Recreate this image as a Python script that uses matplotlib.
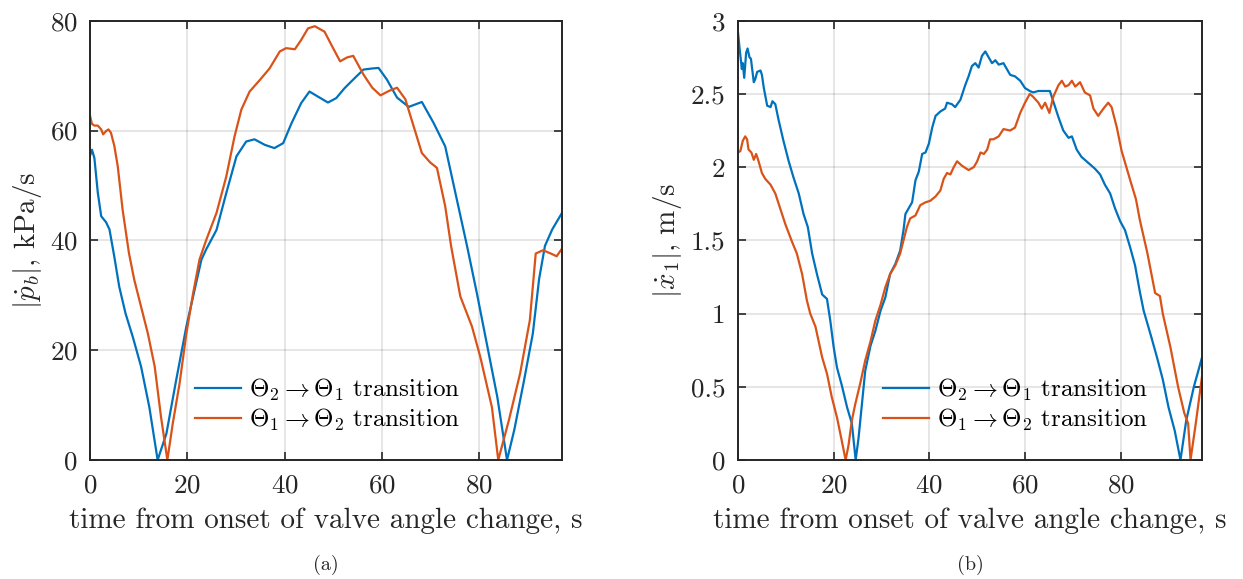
import numpy as np
import matplotlib
matplotlib.use("Agg")
import matplotlib.pyplot as plt

# =============================================================================
# Data (time in s)
# =============================================================================
# (a) |dp_b/dt|, kPa/s
pb_t_21 = [0, 0.4, 0.9, 1.6, 2.3, 3.3, 4.0, 5.0, 6.0, 7.3, 8.8, 10.5, 12.2, 13.9,
           15.7, 17.7, 19.8, 21.5, 22.9, 23.9, 26.0, 28.0, 30.1, 32.1, 33.8, 35.9,
           37.9, 39.7, 41.4, 43.4, 45.1, 46.8, 48.9, 50.6, 52.3, 54.0, 56.2, 58.0,
           59.3, 61.0, 63.1, 65.5, 68.2, 70.6, 73.0, 75.1, 77.5, 79.5, 81.7, 83.7,
           85.7, 87.2, 89.2, 91.0, 92.3, 93.5, 95.0, 97.0]
pb_v_21 = [55.4, 56.5, 55.0, 48.7, 44.4, 43.3, 42.0, 37.0, 31.6, 26.7, 22.4, 17.0,
           9.6, 0.0, 4.8, 14.5, 24.3, 31.0, 36.5, 38.4, 41.9, 48.6, 55.3, 58.0,
           58.4, 57.4, 56.8, 57.7, 61.3, 65.0, 67.1, 66.2, 65.1, 65.9, 67.7, 69.2,
           71.1, 71.3, 71.4, 69.3, 66.0, 64.3, 65.2, 61.4, 57.1, 48.6, 38.9, 30.4,
           20.5, 11.5, 0.0, 5.5, 14.5, 23.0, 33.0, 39.0, 42.0, 45.0]

pb_t_12 = [0, 0.4, 0.9, 1.6, 2.3, 2.7, 3.3, 3.8, 4.3, 5.0, 5.7, 6.7, 8.0, 9.1,
           10.5, 11.9, 13.3, 14.6, 15.9, 17.0, 18.4, 19.8, 21.2, 22.5, 23.9, 26.0,
           28.0, 29.7, 31.1, 32.8, 34.9, 36.9, 39.0, 40.3, 42.1, 43.4, 44.8, 46.2,
           48.2, 49.6, 51.4, 52.8, 54.1, 56.2, 58.0, 59.7, 61.4, 63.1, 64.8, 66.5,
           68.2, 69.9, 71.3, 73.0, 74.2, 76.1, 78.5, 80.2, 82.6, 83.9, 86.1, 88.4,
           90.4, 91.6, 93.1, 94.7, 95.9, 97.0]
pb_v_12 = [62.7, 61.2, 60.9, 60.9, 60.2, 59.3, 59.9, 60.2, 59.6, 57.2, 53.5, 45.6,
           37.7, 32.8, 27.9, 23.0, 17.0, 7.8, 0.0, 6.6, 13.9, 23.0, 30.4, 36.5,
           40.1, 45.0, 51.6, 58.9, 63.8, 67.1, 69.2, 71.3, 74.4, 75.0, 74.8, 76.5,
           78.6, 79.0, 78.0, 75.6, 72.6, 73.3, 73.6, 70.2, 67.8, 66.4, 67.2, 67.8,
           65.7, 60.8, 55.9, 54.2, 53.2, 46.2, 39.0, 29.8, 24.3, 18.8, 9.6, 0.0,
           7.3, 15.8, 25.5, 37.6, 38.2, 37.6, 37.1, 38.5]

# (b) |dx_1/dt|, m/s
x1_t_21 = [0, 0.3, 0.6, 0.8, 1.0, 1.3, 1.7, 2.0, 2.4, 2.7, 3.3, 3.6, 4.0, 4.7, 5.0,
           5.4, 6.1, 6.8, 7.2, 7.8, 8.5, 9.5, 10.6, 11.6, 12.7, 13.7, 14.6, 15.5,
           16.5, 17.6, 18.6, 19.3, 20.0, 20.7, 21.7, 22.8, 23.8, 24.6, 25.2, 25.9,
           26.6, 27.7, 28.7, 29.8, 30.8, 31.8, 32.9, 33.9, 34.6, 35.0, 35.7, 36.4,
           37.1, 37.8, 38.5, 39.2, 39.9, 40.6, 41.3, 42.3, 43.3, 43.7, 44.7, 45.4,
           46.5, 47.5, 48.2, 48.9, 49.6, 50.3, 51.0, 51.7, 52.4, 53.1, 53.8, 54.5,
           55.5, 56.9, 57.9, 59.0, 60.0, 61.0, 61.7, 62.8, 63.8, 65.2, 65.9, 67.0,
           68.0, 69.1, 69.8, 70.8, 71.8, 73.2, 74.6, 75.7, 76.7, 77.8, 78.8, 79.9,
           80.9, 82.0, 83.0, 84.0, 84.8, 86.4, 87.6, 88.8, 90.0, 91.3, 92.5, 93.7,
           95.3, 97.0]
x1_v_21 = [2.92, 2.82, 2.73, 2.67, 2.71, 2.61, 2.78, 2.81, 2.75, 2.74, 2.58, 2.60,
           2.65, 2.66, 2.63, 2.54, 2.42, 2.41, 2.45, 2.43, 2.32, 2.18, 2.04, 1.93,
           1.82, 1.68, 1.59, 1.41, 1.27, 1.13, 1.10, 0.95, 0.77, 0.63, 0.51, 0.36,
           0.25, 0.0, 0.15, 0.38, 0.61, 0.78, 0.88, 1.02, 1.11, 1.27, 1.34, 1.43,
           1.57, 1.68, 1.72, 1.76, 1.91, 1.97, 2.09, 2.10, 2.16, 2.27, 2.35, 2.38,
           2.40, 2.44, 2.43, 2.41, 2.46, 2.56, 2.62, 2.69, 2.71, 2.68, 2.76, 2.79,
           2.75, 2.71, 2.73, 2.70, 2.71, 2.63, 2.62, 2.59, 2.54, 2.52, 2.51, 2.52,
           2.52, 2.52, 2.45, 2.34, 2.25, 2.20, 2.21, 2.12, 2.07, 2.03, 1.99, 1.95,
           1.88, 1.82, 1.72, 1.63, 1.57, 1.45, 1.33, 1.15, 1.02, 0.84, 0.70, 0.55,
           0.36, 0.20, 0.0, 0.27, 0.50, 0.70]

x1_t_12 = [0, 0.5, 1.0, 1.5, 1.9, 2.2, 2.8, 3.3, 3.8, 4.3, 5.0, 5.7, 6.8, 7.8, 8.8,
           9.9, 11.3, 12.3, 13.4, 14.4, 15.1, 16.2, 17.6, 18.6, 19.6, 20.7, 21.7,
           22.5, 23.1, 23.8, 24.5, 25.6, 26.6, 27.7, 28.7, 29.8, 30.8, 31.8, 32.9,
           33.9, 34.6, 35.3, 36.0, 37.1, 38.1, 39.2, 40.2, 41.3, 42.3, 43.0, 43.7,
           44.4, 45.1, 45.8, 46.8, 48.2, 49.3, 50.0, 50.7, 51.4, 52.1, 52.7, 53.4,
           54.5, 55.5, 56.9, 57.9, 59.0, 60.0, 61.0, 61.7, 62.8, 63.5, 64.2, 65.1,
           65.9, 67.0, 67.7, 68.4, 69.1, 69.8, 70.5, 71.5, 72.5, 73.6, 74.3, 75.3,
           76.4, 77.4, 78.1, 79.2, 80.2, 82.0, 83.2, 84.0, 85.6, 87.2, 88.2, 88.8,
           90.4, 92.0, 93.3, 94.1, 94.6, 95.7, 97.0]
x1_v_12 = [2.10, 2.11, 2.18, 2.21, 2.19, 2.12, 2.10, 2.05, 2.09, 2.04, 1.96, 1.92,
           1.88, 1.82, 1.72, 1.61, 1.49, 1.41, 1.27, 1.09, 1.00, 0.91, 0.70, 0.59,
           0.43, 0.29, 0.13, 0.0, 0.10, 0.27, 0.38, 0.53, 0.68, 0.81, 0.95, 1.06,
           1.18, 1.27, 1.33, 1.41, 1.50, 1.59, 1.65, 1.67, 1.74, 1.76, 1.77, 1.80,
           1.84, 1.92, 1.96, 1.95, 2.00, 2.04, 2.01, 1.98, 2.00, 2.04, 2.10, 2.09,
           2.12, 2.19, 2.19, 2.21, 2.26, 2.25, 2.27, 2.37, 2.44, 2.50, 2.48, 2.44,
           2.40, 2.44, 2.37, 2.48, 2.56, 2.59, 2.55, 2.56, 2.59, 2.55, 2.58, 2.51,
           2.49, 2.40, 2.35, 2.40, 2.44, 2.41, 2.27, 2.11, 1.91, 1.78, 1.64, 1.41,
           1.14, 1.12, 1.00, 0.77, 0.50, 0.32, 0.25, 0.0, 0.25, 0.57]

x_ticks = [0, 20, 40, 60, 80]
pb_ticks = [0, 20, 40, 60, 80]
x1_ticks = [0, 0.5, 1, 1.5, 2, 2.5, 3]
x1_ticklabels = ["0", "0.5", "1", "1.5", "2", "2.5", "3"]

label_21 = r"$\Theta_2 \rightarrow \Theta_1$ transition"
label_12 = r"$\Theta_1 \rightarrow \Theta_2$ transition"
xlabel = "time from onset of valve angle change, s"

# =============================================================================
# Style (MATLAB-like, Computer Modern)
# =============================================================================
plt.rcParams["font.family"] = ["cmr10", "DejaVu Serif"]
plt.rcParams["mathtext.fontset"] = "cm"
plt.rcParams["axes.formatter.use_mathtext"] = True

BLUE = "#0072BD"
ORANGE = "#D95319"
AX_COL = "#262626"

fig = plt.figure(figsize=(12.43, 5.79), dpi=100)
ax1 = fig.add_axes([90 / 1243, 1 - 460 / 579, 472 / 1243, 439.3 / 579])
ax2 = fig.add_axes([738 / 1243, 1 - 460 / 579, 464 / 1243, 439.3 / 579])


def style_axes(ax):
    ax.set_xlim(0, 97)
    ax.grid(True, color="#000000", alpha=0.13, linewidth=1.1)
    ax.set_axisbelow(True)
    for sp in ax.spines.values():
        sp.set_color(AX_COL)
        sp.set_linewidth(1.4)
    ax.tick_params(direction="in", top=True, right=True, length=6, width=1.2,
                   color=AX_COL, labelcolor=AX_COL, labelsize=19.5)
    ax.tick_params(axis="x", pad=10)
    ax.tick_params(axis="y", pad=9)
    ax.set_xticks(x_ticks)
    ax.set_xlabel(xlabel, fontsize=21, color=AX_COL, labelpad=7)


# --- (a) ---
ax1.plot(pb_t_21, pb_v_21, color=BLUE, linewidth=1.6, label=label_21)
ax1.plot(pb_t_12, pb_v_12, color=ORANGE, linewidth=1.6, label=label_12)
style_axes(ax1)
ax1.set_ylim(0, 80)
ax1.set_yticks(pb_ticks)
ax1.set_ylabel(r"$|\dot{p}_b|$, kPa/s", fontsize=21, color=AX_COL, va="center")
ax1.yaxis.set_label_coords(-0.132, 0.5)
ax1.legend(loc="center left", bbox_to_anchor=(0.222, 0.125), frameon=False,
           fontsize=18, handlelength=1.85, handletextpad=0.3, labelspacing=0.15,
           borderpad=0, borderaxespad=0)
ax1.text(0.5, -0.238, "(a)", transform=ax1.transAxes, ha="center", va="center",
         fontsize=14.5, color=AX_COL)

# --- (b) ---
ax2.plot(x1_t_21, x1_v_21, color=BLUE, linewidth=1.6, label=label_21)
ax2.plot(x1_t_12, x1_v_12, color=ORANGE, linewidth=1.6, label=label_12)
style_axes(ax2)
ax2.set_ylim(0, 3)
ax2.set_yticks(x1_ticks)
ax2.set_yticklabels(x1_ticklabels)
ax2.set_ylabel(r"$|\dot{x}_1|$, m/s", fontsize=21, color=AX_COL, va="center")
ax2.yaxis.set_label_coords(-0.152, 0.5)
ax2.legend(loc="center left", bbox_to_anchor=(0.3125, 0.125), frameon=False,
           fontsize=18, handlelength=1.85, handletextpad=0.3, labelspacing=0.15,
           borderpad=0, borderaxespad=0)
ax2.text(0.5, -0.238, "(b)", transform=ax2.transAxes, ha="center", va="center",
         fontsize=14.5, color=AX_COL)

fig.savefig("out.png", dpi=100)
